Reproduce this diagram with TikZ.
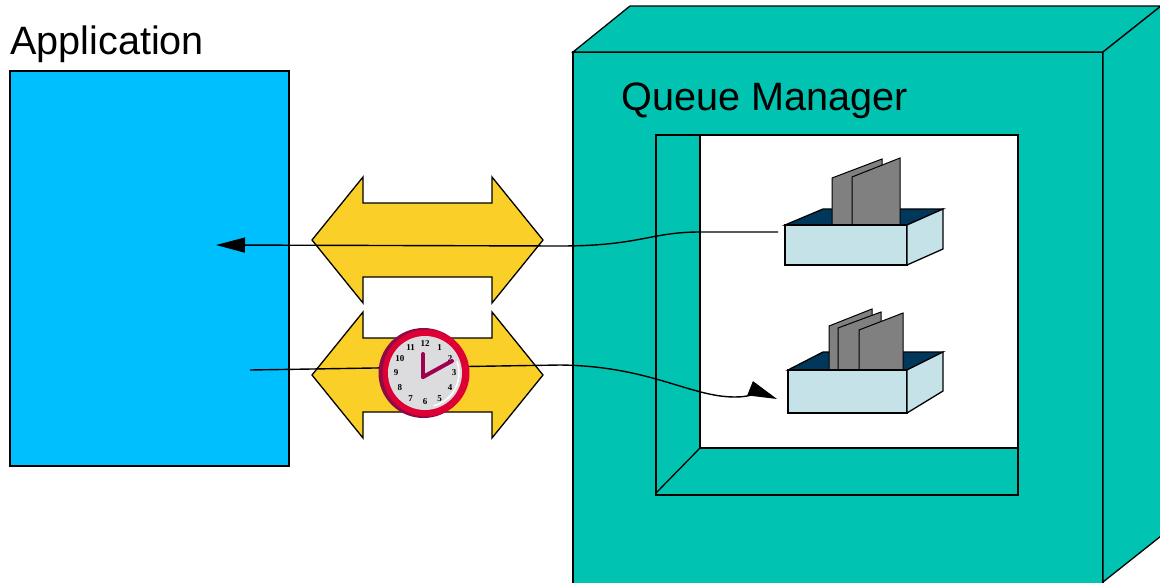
\documentclass[tikz,border=0pt]{standalone}
\usepackage{fontspec}
\setmainfont{Liberation Sans}
\newfontfamily\clockfont{Liberation Serif}
\usetikzlibrary{arrows.meta}
\definecolor{appblue}{RGB}{0,191,255}
\definecolor{qmteal}{RGB}{0,196,177}
\definecolor{arrowyellow}{RGB}{250,208,40}
\definecolor{traylight}{RGB}{197,226,232}
\definecolor{traydark}{RGB}{0,56,92}
\definecolor{sheetgrey}{RGB}{128,128,128}
\definecolor{clockred}{RGB}{222,0,52}
\definecolor{clockdark}{RGB}{140,10,70}
\definecolor{handmaroon}{RGB}{160,0,80}
\definecolor{facegrey}{RGB}{220,220,222}
\tikzset{
    outline/.style={draw=black, line width=1.3pt}, % 所有色块的黑色描边
    label text/.style={font=\fontsize{39.6}{44}\selectfont, inner sep=0pt}, % 大标题
    dblarrow/.style={outline, fill=arrowyellow}, % 黄色双向箭头
    tray face/.style={outline, fill=traylight}, % 队列盒子的侧面
    tray top/.style={outline, fill=traydark}, % 盒子开口
    sheet/.style={outline, line width=1pt, fill=sheetgrey}, % 消息纸张
    msgflow/.style={draw=black, line width=1.4pt, -{Triangle[length=29pt, width=15pt]}}, % 消息流向
    clocknum/.style={font=\clockfont\fontsize{9}{9}\selectfont\bfseries, inner sep=0pt},
    hand/.style={handmaroon, line width=4pt, line cap=round}
}
\begin{document}
\begin{tikzpicture}[x=1pt, y=-1pt]
    \useasboundingbox (0,0) rectangle (1160,582);
    \clip (0,0) rectangle (1160,582);

    % 应用程序
    \node[label text, anchor=base west] (applabel) at (10,54) {Application};
    \draw[outline, fill=appblue] (10,71) rectangle (289,466);

    % 队列管理器（立体框）
    \draw[outline, fill=qmteal] (573,52) rectangle (1103,590);
    \draw[outline, fill=qmteal] (573,52) -- (630,6) -- (1161,6) -- (1103,52) -- cycle;
    \draw[outline, fill=qmteal] (1103,52) -- (1161,6) -- (1161,536) -- (1103,582) -- cycle;
    \node[label text, anchor=base west] (qmlabel) at (621,110) {Queue Manager};

    % 内部窗口
    \draw[outline, fill=qmteal] (656,135) rectangle (1018,495);
    \draw[outline, fill=white] (700,135) rectangle (1018,448);
    \draw[outline] (700,448) -- (656,493);

    % 上面的队列
    \draw[tray top] (785,225) -- (823,209) -- (943,209) -- (907,225) -- cycle;
    \foreach \xa/\ya/\xb/\yb in {832/178/882/159, 852/177/900/158}
        {\draw[sheet] (\xa,225) -- (\xa,\ya) -- (\xb,\yb) -- (\xb,225) -- cycle;}
    \draw[tray face] (785,225) rectangle (907,265);
    \draw[tray face] (907,225) -- (943,209) -- (943,249) -- (907,265) -- cycle;

    % 下面的队列
    \draw[tray top] (788,370) -- (823,352) -- (943,352) -- (907,370) -- cycle;
    \foreach \xa/\ya/\xb/\yb in {829/326/872/309, 838/328/881/312, 859/330/903/313}
        {\draw[sheet] (\xa,370) -- (\xa,\ya) -- (\xb,\yb) -- (\xb,370) -- cycle;}
    \draw[tray face] (788,370) rectangle (907,413);
    \draw[tray face] (907,370) -- (943,352) -- (943,391) -- (907,413) -- cycle;

    % 双向箭头
    \foreach \y in {240,375} {
        \draw[dblarrow] (312,\y) -- (363,\y-63) -- (363,\y-37) -- (492,\y-37) -- (492,\y-63)
            -- (543,\y) -- (492,\y+63) -- (492,\y+37) -- (363,\y+37) -- (363,\y+63) -- cycle;
    }

    % 消息的路径
    \coordinate (q1 out) at (778,232);
    \coordinate (app in) at (216,245);
    \coordinate (app out) at (250,370);
    \coordinate (q2 in) at (777,399);
    \draw[msgflow] (q1 out) -- (700,232) .. controls (650,232) and (640,246) .. (560,246) -- (app in);
    \draw[msgflow] (app out) -- (560,365) .. controls (650,366) and (690,397) .. (735,397)
        .. controls (750,397) and (762,393) .. (q2 in);

    % 时钟
    \begin{scope}[shift={(425,373)}, x=1pt, y=1pt]
        \fill[clockdark] (-1.5,0) circle (45);
        \fill[clockred] (1,0) circle (43.5);
        \fill[facegrey] (0,0) circle (37);
        \draw[white, line width=1.5pt] (-75:34) arc[start angle=-75, end angle=20, radius=34];
        \foreach \n in {1,...,12}
            {\node[clocknum] (num\n) at (90-30*\n:29) {\n};}
        \draw[hand] (-2,-4) -- (-2,19);
        \draw[hand] (-2,-4) -- (27,12);
    \end{scope}
\end{tikzpicture}
\end{document}
